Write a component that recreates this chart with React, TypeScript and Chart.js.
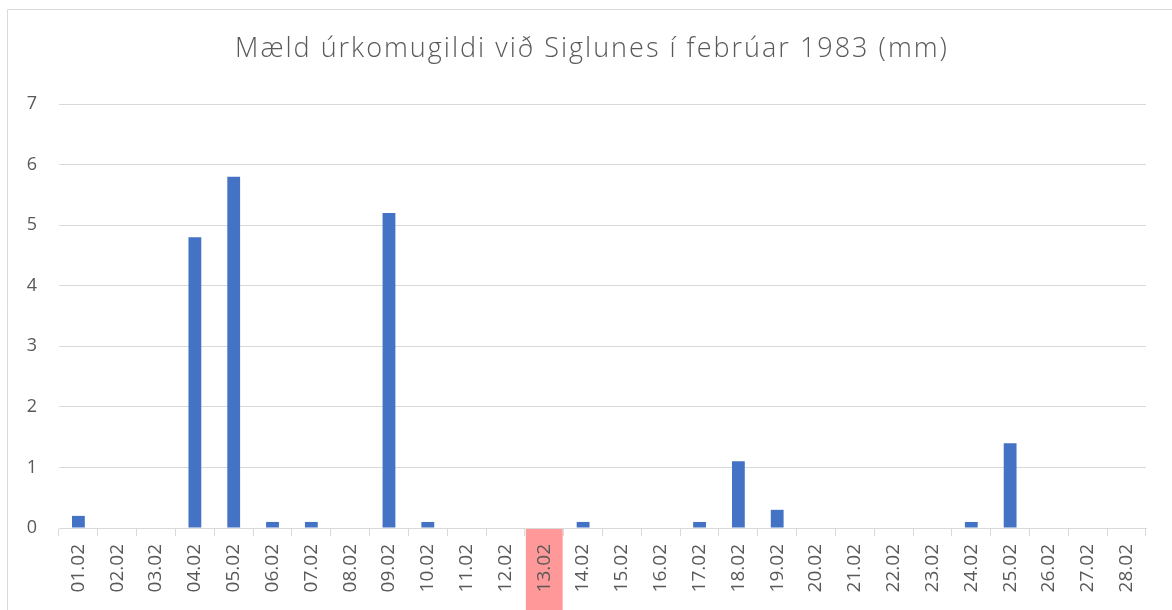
import React, { useEffect, useRef } from "react";
import { Chart, registerables } from "chart.js";

Chart.register(...registerables);

const titleText = "Mæld úrkomugildi við Siglunes í febrúar 1983 (mm)";
const days = [
  "01.02", "02.02", "03.02", "04.02", "05.02", "06.02", "07.02",
  "08.02", "09.02", "10.02", "11.02", "12.02", "13.02", "14.02",
  "15.02", "16.02", "17.02", "18.02", "19.02", "20.02", "21.02",
  "22.02", "23.02", "24.02", "25.02", "26.02", "27.02", "28.02",
];
const precipitation = [
  0.2, 0, 0, 4.8, 5.8, 0.1, 0.1,
  0, 5.2, 0.1, 0, 0, 0, 0.1,
  0, 0, 0.1, 1.1, 0.3, 0, 0,
  0, 0, 0.1, 1.4, 0, 0, 0,
];
const highlightedDay = "13.02";
const yTicks = [0, 1, 2, 3, 4, 5, 6, 7];

const W = 1172;
const H = 610;
const FONT = "'Open Sans', 'Liberation Sans', sans-serif";
const TEXT = "#595959";
const GRID = "#d9d9d9";

const decorPlugin = {
  id: "decor",
  beforeDraw(chart: any) {
    const ctx = chart.ctx;
    const x = chart.scales.x;
    ctx.save();
    // chart frame
    ctx.strokeStyle = GRID;
    ctx.lineWidth = 1;
    ctx.beginPath();
    ctx.moveTo(7.5, H);
    ctx.lineTo(7.5, 9.5);
    ctx.lineTo(W, 9.5);
    ctx.stroke();
    // highlighted label background
    const idx = days.indexOf(highlightedDay);
    if (idx >= 0) {
      const cx = x.getPixelForValue(idx);
      const cw = (x.right - x.left) / days.length;
      ctx.fillStyle = "rgb(255,153,153)";
      ctx.fillRect(cx - cw / 2 + 1, x.top + 1, cw - 2, H - x.top);
    }
    // title
    ctx.fillStyle = TEXT;
    ctx.font = `300 27px ${FONT}`;
    (ctx as any).letterSpacing = "2px";
    ctx.textAlign = "center";
    ctx.textBaseline = "middle";
    ctx.fillText(titleText, 592, 49);
    ctx.restore();
  },
};

export default function App() {
  const ref = useRef<HTMLCanvasElement>(null);
  useEffect(() => {
    if (!ref.current) return;
    const chart = new Chart(ref.current, {
      type: "bar",
      data: {
        labels: days,
        datasets: [
          {
            data: precipitation,
            backgroundColor: "#4472c4",
            borderWidth: 0,
            barPercentage: 0.33,
            categoryPercentage: 1,
          },
        ],
      },
      options: {
        responsive: false,
        animation: false,
        layout: { padding: { top: 104, left: 8, right: W - 1146, bottom: 0 } },
        plugins: {
          legend: { display: false },
          tooltip: { enabled: false },
          title: { display: false },
        },
        scales: {
          x: {
            offset: true,
            grid: {
              offset: true,
              drawOnChartArea: false,
              drawTicks: true,
              tickLength: 8,
              color: GRID,
            },
            border: { display: true, color: GRID, width: 1 },
            ticks: {
              color: TEXT,
              font: { family: FONT, size: 19 },
              minRotation: 90,
              maxRotation: 90,
              autoSkip: false,
              padding: 8,
            },
            afterFit(scale: any) {
              scale.height = 82;
            },
          },
          y: {
            min: 0,
            max: 7,
            afterBuildTicks(scale: any) {
              scale.ticks = yTicks.map((v) => ({ value: v }));
            },
            grid: { color: GRID, drawTicks: false },
            border: { display: false },
            ticks: {
              color: TEXT,
              font: { family: FONT, size: 18 },
              padding: 22,
            },
            afterFit(scale: any) {
              scale.width = 51;
            },
          },
        },
      },
      plugins: [decorPlugin],
    });
    return () => chart.destroy();
  }, []);
  return (
    <div style={{ position: "fixed", left: 0, top: 0, width: W, height: H, background: "#fff" }}>
      <canvas ref={ref} width={W} height={H} style={{ display: "block" }} />
    </div>
  );
}
